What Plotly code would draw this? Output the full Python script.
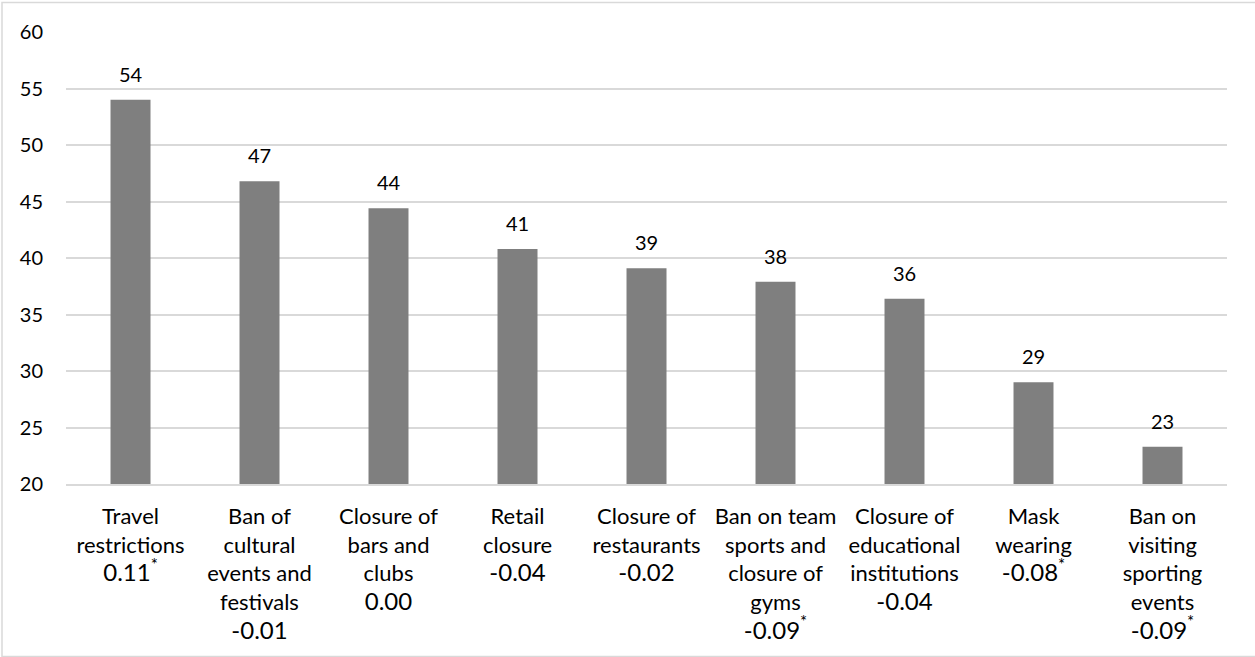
import plotly.graph_objects as go

categories = [
    "Travel<br>restrictions",
    "Ban of<br>cultural<br>events and<br>festivals",
    "Closure of<br>bars and<br>clubs",
    "Retail<br>closure",
    "Closure of<br>restaurants",
    "Ban on team<br>sports and<br>closure of<br>gyms",
    "Closure of<br>educational<br>institutions",
    "Mask<br>wearing",
    "Ban on<br>visiting<br>sporting<br>events",
]
values = [54.0, 46.8, 44.4, 40.8, 39.1, 37.9, 36.4, 29.0, 23.3]
value_labels = ["54", "47", "44", "41", "39", "38", "36", "29", "23"]
correlations = ["0.11", "-0.01", "0.00", "-0.04", "-0.02", "-0.09", "-0.04", "-0.08", "-0.09"]
significant = [True, False, False, False, False, True, False, True, True]
y_ticks = [20, 25, 30, 35, 40, 45, 50, 55, 60]

FONT = "Lato"
x_keys = list(range(len(categories)))
ticktext = []
for c, r, s in zip(categories, correlations, significant):
    star = "<sup>*</sup>" if s else ""
    ticktext.append(f"{c}<br><span style='font-size:24px'>{r}{star}</span>")

W, H = 1255, 657
L, T = 66, 32
PLOT_W = 1161
PLOT_H = 451.6
R = W - L - PLOT_W
B = H - T - PLOT_H

fig = go.Figure()
fig.add_trace(go.Bar(
    x=x_keys, y=values,
    marker=dict(color="#7f7f7f", line=dict(width=0)),
    width=0.31,
    hoverinfo="skip",
))

for xk, v, lab in zip(x_keys, values, value_labels):
    fig.add_annotation(
        x=xk, y=v, xref="x", yref="y", text=lab, showarrow=False,
        yanchor="bottom", yshift=12,
        font=dict(family=FONT, size=20, color="#000000"),
    )

grid_c = "#d9d9d9"
fig.update_layout(
    width=W, height=H,
    margin=dict(l=L, r=R, t=T, b=B),
    paper_bgcolor="white", plot_bgcolor="white",
    showlegend=False,
    font=dict(family=FONT, size=22, color="#000000"),
    xaxis=dict(
        tickmode="array", tickvals=x_keys, ticktext=ticktext,
        range=[-0.5, len(categories) - 0.5],
        showgrid=False, showline=True, linecolor=grid_c, linewidth=1.5,
        ticks="", tickfont=dict(family=FONT, size=22, color="#000000"),
        ticklabelstandoff=12,
    ),
    yaxis=dict(
        range=[20, 60], tickmode="array", tickvals=y_ticks,
        showgrid=True, gridcolor=grid_c, gridwidth=1.5,
        zeroline=False, showline=False, ticks="",
        tickfont=dict(family=FONT, size=20, color="#000000"),
        ticklabelstandoff=22,
    ),
)

# outer chart border (ref: left/top at ~2px, bottom at ~656px, right off-window)
fig.add_shape(
    type="rect", xref="paper", yref="paper",
    x0=(2 - L) / PLOT_W, x1=(W + 60 - L) / PLOT_W,
    y0=(T + PLOT_H - 656) / PLOT_H, y1=(T + PLOT_H - 2.5) / PLOT_H,
    line=dict(color=grid_c, width=1.5), layer="below",
)

fig.write_html(
    "out.html",
    config={"displayModeBar": False},
    post_script="document.body.style.margin='0';document.body.style.overflow='hidden';",
)
